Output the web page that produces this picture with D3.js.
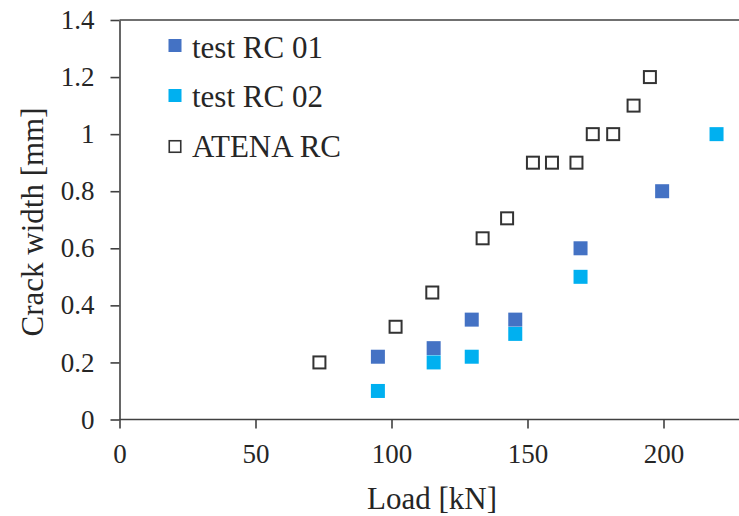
<!DOCTYPE html>
<html>
<head>
<meta charset="utf-8">
<script src="https://cdn.jsdelivr.net/npm/d3@7"></script>
<style>
  html, body { margin: 0; padding: 0; background: #fff; }
  svg { display: block; font-family: "Liberation Serif", "Times New Roman", serif; }
</style>
</head>
<body>
<svg id="chart" width="739" height="516"></svg>
<script>
// Crack width vs. load: two tests and the ATENA model
const load01  = [95, 115.5, 129.5, 145.5, 169.5, 199.5];
const crack01 = [0.22, 0.25, 0.35, 0.35, 0.6, 0.8];

const load02  = [95, 115.5, 129.5, 145.5, 169.5, 219.5];
const crack02 = [0.1, 0.2, 0.22, 0.3, 0.5, 1.0];

const loadAtena  = [73.5, 101.5, 115, 133.5, 142.5, 152, 159, 168, 174, 181.5, 189, 195];
const crackAtena = [0.2, 0.325, 0.445, 0.635, 0.705, 0.9, 0.9, 0.9, 1.0, 1.0, 1.1, 1.2];

const xTicks = [0, 50, 100, 150, 200];
const yTicks = [0, 0.2, 0.4, 0.6, 0.8, 1, 1.2, 1.4];

const seriesNames = ["test RC 01", "test RC 02", "ATENA RC"];

const svg = d3.select("#chart");
const axisColor = "#404040";
const textColor = "#262626";
const serif = "'Liberation Serif', 'Times New Roman', serif";

const x = d3.scaleLinear().domain([0, 250]).range([119.5, 799.5]);
const y = d3.scaleLinear().domain([0, 1.4]).range([419.5, 20]);

// top border of the plot area
svg.append("line")
  .attr("x1", x(0)).attr("x2", x(250))
  .attr("y1", y(1.4)).attr("y2", y(1.4))
  .attr("stroke", axisColor).attr("stroke-width", 1.6);

// axes
const xAxis = svg.append("g")
  .attr("transform", `translate(0,${y(0)})`)
  .call(d3.axisBottom(x).tickValues(xTicks).tickFormat(d3.format("d"))
        .tickSize(9).tickSizeOuter(0).tickPadding(15));

const yAxis = svg.append("g")
  .attr("transform", `translate(${x(0)},0)`)
  .call(d3.axisLeft(y).tickValues(yTicks).tickFormat(d => String(+d.toFixed(1)))
        .tickSize(9).tickSizeOuter(0).tickPadding(16));

// the x axis line runs on past the last labelled tick
xAxis.select(".domain").attr("d", `M${x(0)},0H${x(250)}`);

[xAxis, yAxis].forEach(g => {
  g.attr("font-family", serif).attr("font-size", 27);
  g.select(".domain").attr("stroke", axisColor).attr("stroke-width", 1.6);
  g.selectAll(".tick line").attr("stroke", axisColor).attr("stroke-width", 1.6);
  g.selectAll(".tick text")
    .attr("fill", textColor)
    .style("font-family", serif)
    .style("font-size", "27px");
});

// axis titles
svg.append("text")
  .attr("x", 432).attr("y", 509)
  .attr("text-anchor", "middle")
  .attr("fill", textColor)
  .style("font-size", "31px")
  .text("Load [kN]");

svg.append("text")
  .attr("transform", "translate(43,222) rotate(-90)")
  .attr("text-anchor", "middle")
  .attr("fill", textColor)
  .style("font-size", "31px")
  .text("Crack width [mm]");

// markers
const size = 14;
const plot = svg.append("g");

plot.selectAll("rect.s1")
  .data(d3.zip(load01, crack01))
  .join("rect")
  .attr("class", "s1")
  .attr("x", d => x(d[0]) - size / 2)
  .attr("y", d => y(d[1]) - size / 2)
  .attr("width", size).attr("height", size)
  .attr("fill", "#4472C4");

plot.selectAll("rect.s2")
  .data(d3.zip(load02, crack02))
  .join("rect")
  .attr("class", "s2")
  .attr("x", d => x(d[0]) - size / 2)
  .attr("y", d => y(d[1]) - size / 2)
  .attr("width", size).attr("height", size)
  .attr("fill", "#00B0F0");

const hs = 12;
plot.selectAll("rect.s3")
  .data(d3.zip(loadAtena, crackAtena))
  .join("rect")
  .attr("class", "s3")
  .attr("x", d => x(d[0]) - hs / 2)
  .attr("y", d => y(d[1]) - hs / 2)
  .attr("width", hs).attr("height", hs)
  .attr("fill", "#fff")
  .attr("stroke", "#333")
  .attr("stroke-width", 2);

// legend
const legend = svg.append("g");
const legendRows = [
  { name: seriesNames[0], fill: "#4472C4", stroke: "none", cy: 45.5, base: 57.5 },
  { name: seriesNames[1], fill: "#00B0F0", stroke: "none", cy: 95.5, base: 107 },
  { name: seriesNames[2], fill: "#fff", stroke: "#333", cy: 146.5, base: 157 }
];
legendRows.forEach(r => {
  const s = r.stroke === "none" ? 13 : 11.5;
  legend.append("rect")
    .attr("x", 175 - s / 2).attr("y", r.cy - s / 2)
    .attr("width", s).attr("height", s)
    .attr("fill", r.fill)
    .attr("stroke", r.stroke)
    .attr("stroke-width", r.stroke === "none" ? 0 : 1.6);
  legend.append("text")
    .attr("x", 192).attr("y", r.base)
    .attr("fill", textColor)
    .style("font-size", "31px")
    .text(r.name);
});
</script>
</body>
</html>
